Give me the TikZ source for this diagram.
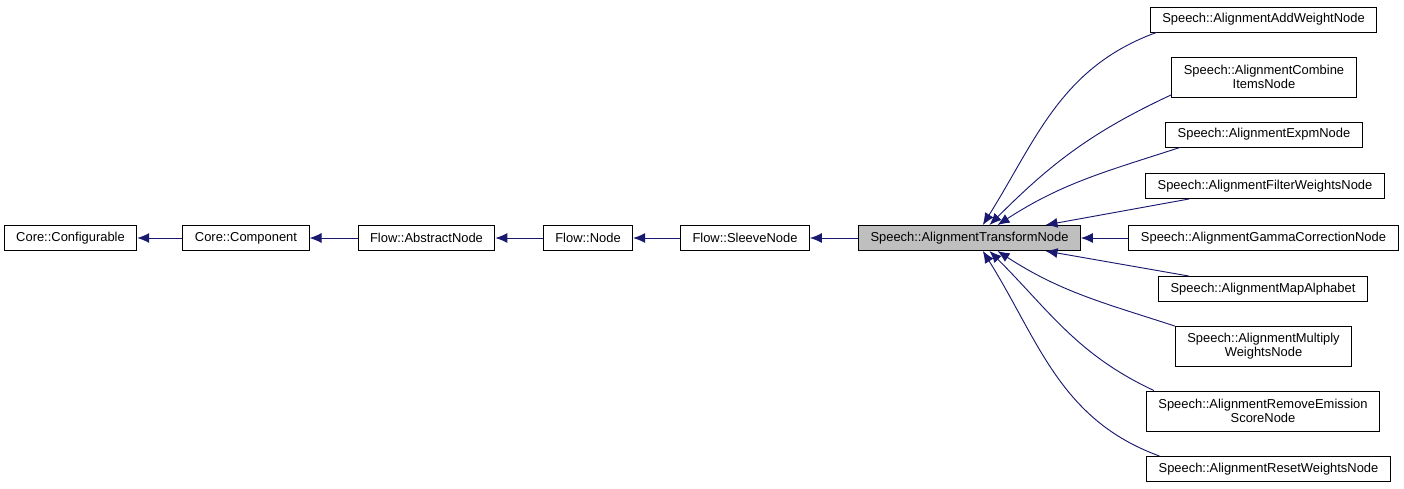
\documentclass[tikz,border=0pt]{standalone}
\usepackage{fontspec}
\setmainfont{Liberation Sans}
\usetikzlibrary{arrows.meta,positioning}
\definecolor{edgeblue}{HTML}{191970}
\definecolor{focusgray}{HTML}{BFBFBF}

\begin{document}
\begin{tikzpicture}[
        x=0.75pt, y=-0.75pt,
        line width=0.7pt,
        cls/.style={
          draw,
          rectangle,
          font=\fontsize{9.7}{10.5}\selectfont,
          align=center,
          inner xsep=9pt,
          inner ysep=2pt,
          minimum height=18.75pt
          },
        twoline/.style={
          cls,
          minimum height=30pt
          },
        focus/.style={
          cls,
          fill=focusgray
          },
        inh/.style={
          draw=edgeblue,
          <-
          },
        >={Latex[length=9pt,width=7.5pt]}
        ]
        \useasboundingbox (0,0) rectangle (1404,489);
        % base chain
        \node[cls] (conf) at (70.5,238) {Core::Configurable};
        \node[cls] (comp) at (246,238) {Core::Component};
        \node[cls] (abs) at (426.5,238) {Flow::AbstractNode};
        \node[cls] (fnode) at (588,238) {Flow::Node};
        \node[cls] (sleeve) at (745,238) {Flow::SleeveNode};
        \node[focus] (trans) at (969.5,238) {Speech::AlignmentTransformNode};
        % derived classes
        \node[cls] (addw) at (1263.5,19.5) {Speech::AlignmentAddWeightNode};
        \node[twoline] (comb) at (1264,77) {Speech::AlignmentCombine\\ItemsNode};
        \node[cls] (expm) at (1264,134.5) {Speech::AlignmentExpmNode};
        \node[cls] (filt) at (1265,186) {Speech::AlignmentFilterWeightsNode};
        \node[cls] (gamma) at (1263.5,238) {Speech::AlignmentGammaCorrectionNode};
        \node[cls] (alpha) at (1263,289) {Speech::AlignmentMapAlphabet};
        \node[twoline] (mult) at (1263.5,346.5) {Speech::AlignmentMultiply\\WeightsNode};
        \node[twoline] (remv) at (1263,411) {Speech::AlignmentRemoveEmission\\ScoreNode};
        \node[cls] (reset) at (1268.5,469) {Speech::AlignmentResetWeightsNode};

        \draw[inh] (conf) -- (comp);
        \draw[inh] (comp) -- (abs);
        \draw[inh] (abs) -- (fnode);
        \draw[inh] (fnode) -- (sleeve);
        \draw[inh] (sleeve) -- (trans);

        \draw[inh] ([xshift=10pt]trans.north) to[out=58,in=200] ([xshift=5pt]addw.south west);
        \draw[inh] ([xshift=15pt]trans.north) to[out=45,in=205] ([yshift=2pt]comb.south west);
        \draw[inh] ([xshift=21pt]trans.north) to[out=33,in=198] ([xshift=11pt]expm.south west);
        \draw[inh] ([xshift=57pt]trans.north) -- ([xshift=33pt]filt.south west);
        \draw[inh] (trans) -- (gamma);
        \draw[inh] ([xshift=57pt]trans.south) -- ([xshift=23pt]alpha.north west);
        \draw[inh] ([xshift=21pt]trans.south) to[out=-33,in=162] (mult.north west);
        \draw[inh] ([xshift=15pt]trans.south) to[out=-45,in=155] ([xshift=6pt]remv.north west);
        \draw[inh] ([xshift=10pt]trans.south) to[out=-58,in=160] ([xshift=10pt]reset.north west);
\end{tikzpicture}
\end{document}
